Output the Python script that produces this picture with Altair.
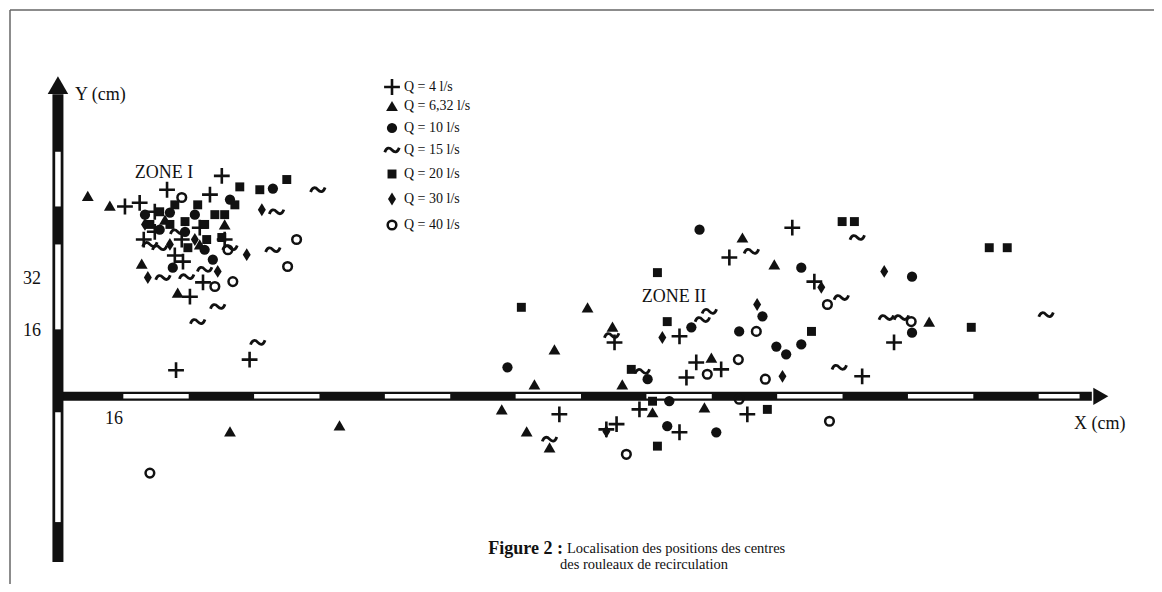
import altair as alt
import pandas as pd

# ---------------- data (positions in cm) ----------------
q4_x = [40.1, 26.7, 16.4, 20.0, 37.2, 30.6, 35.5, 32.3, 23.7, 30.3, 34.7, 28.6, 21.0, 28.9, 46.9, 23.7, 40.8,
        179.7, 164.3, 185.1, 136.2, 152.1, 156.2, 162.3, 153.8, 122.7, 134.2, 136.7, 142.3, 152.1, 168.7, 204.6, 196.8]
q4_y = [54.0, 50.6, 46.5, 47.4, 49.4, 33.0, 27.9, 24.4, 45.2, 38.4, 41.3, 34.5, 38.4, 6.4, 9.0, 40.3, 38.4,
        41.3, 34.0, 28.1, 13.2, 14.7, 8.3, 6.6, 4.6, -4.4, -8.1, -6.8, -3.2, -8.8, -4.4, 13.2, 4.9]

q632_x = [7.3, 12.7, 20.5, 29.3, 34.7, 26.2, 40.8, 42.1, 68.9, 167.5, 175.3, 129.6, 135.7, 121.5, 159.9,
          116.6, 138.1, 108.6, 114.7, 120.3, 145.5, 158.2, 213.2]
q632_y = [49.1, 46.7, 32.5, 25.4, 37.2, 43.3, 42.1, -8.6, -7.1, 38.9, 32.3, 21.8, 17.1, 11.5, 9.5,
          2.9, 2.9, -3.2, -8.6, -12.5, -3.9, -2.7, 18.3]

q10_x = [52.6, 28.1, 31.1, 42.1, 24.9, 37.9, 33.5, 21.3, 27.4, 35.9, 157.0, 181.9, 209.0, 155.0, 166.7, 175.8,
         178.2, 181.9, 110.0, 144.3, 149.6, 149.1, 161.1, 209.0, 172.4]
q10_y = [50.9, 31.5, 40.3, 48.2, 40.8, 33.5, 44.5, 44.5, 45.0, 35.9, 40.8, 31.5, 29.3, 16.9, 15.9, 12.2,
         10.3, 12.7, 7.1, 4.2, -1.2, -7.3, -8.8, 15.6, 19.6]

q15_x = [63.6, 53.5, 52.6, 25.7, 31.5, 39.1, 34.2, 42.1, 24.9, 35.9, 48.9, 29.3, 22.5, 169.7, 195.6, 191.7,
         202.7, 206.4, 241.8, 191.2, 135.5, 157.7, 159.4, 143.0, 120.3]
q15_y = [50.6, 45.2, 35.9, 29.1, 29.3, 22.0, 18.3, 36.4, 36.4, 31.1, 13.2, 40.3, 37.2, 35.5, 38.9, 24.2,
         19.3, 19.3, 20.0, 7.1, 14.9, 18.8, 20.8, 6.1, -10.5]

q20_x = [44.5, 49.4, 56.0, 28.6, 38.4, 34.2, 22.5, 27.4, 36.4, 40.1, 31.8, 43.3, 24.9, 31.1, 35.9, 40.8,
         191.9, 194.9, 227.9, 232.3, 146.7, 113.4, 149.1, 184.4, 223.5, 140.3, 145.5, 146.7, 173.6]
q20_y = [51.3, 50.6, 53.1, 46.9, 44.5, 46.9, 42.1, 42.1, 38.4, 38.9, 36.4, 46.9, 45.2, 42.8, 42.1, 44.5,
         42.8, 42.8, 36.4, 36.4, 30.3, 21.8, 18.3, 15.9, 16.9, 6.6, -1.2, -12.2, -3.2]

q30_x = [49.9, 46.2, 22.0, 39.1, 27.4, 21.3, 33.5, 147.9, 171.1, 177.3, 186.8, 202.2, 134.2]
q30_y = [45.7, 34.7, 29.1, 30.6, 37.2, 42.1, 38.4, 14.4, 22.5, 4.9, 26.7, 30.6, -8.6]

q40_x = [58.4, 56.2, 42.8, 38.4, 30.3, 41.6, 22.5, 170.9, 166.5, 158.9, 173.1, 166.7, 139.1, 188.8,
         188.3, 208.8]
q40_y = [38.4, 31.8, 28.1, 26.9, 48.7, 35.9, -18.8, 15.9, 9.0, 5.4, 4.2, -0.7, -14.2, -6.1, 22.5, 18.3]

series_labels = ["Q = 4 l/s", "Q = 6,32 l/s", "Q = 10 l/s", "Q = 15 l/s",
                 "Q = 20 l/s", "Q = 30 l/s", "Q = 40 l/s"]

# graduated axes (cm): white segments of the striped bars
x_white_from = [16, 48, 80, 112, 144, 176, 208, 240]
x_white_to = [32, 64, 96, 128, 160, 192, 224, 250]
y_white_from = [46.5, 16.4, -30.8]
y_white_to = [59.9, 37.2, -3.9]
x_bar = [0, 253]
y_bar = [-40.6, 74]

# ---------------- layout ----------------
W, H = 1146, 576
XS = alt.Scale(domain=[-12.22, 267.97], nice=False, zero=False)
YS = alt.Scale(domain=[-45.72, 95.11], nice=False, zero=False)
INK = "#111111"
SERIF = "Liberation Serif"
one = alt.Data(values=[{}])

CROSS = "M -1 0 L 1 0 M 0 -1 L 0 1"
TILDE = "M -1 0.3 C -0.75 -0.4 -0.35 -0.4 0 0 C 0.35 0.4 0.75 0.4 1 -0.3"
DIAMOND = "M 0 -1 L 0.62 0 L 0 1 L -0.62 0 Z"

styles = [
    dict(shape=CROSS, size=250, filled=False, strokeWidth=2.6),
    dict(shape="triangle-up", size=140, filled=True),
    dict(shape="circle", size=105, filled=True),
    dict(shape=TILDE, size=210, filled=False, strokeWidth=2.8),
    dict(shape="square", size=80, filled=True),
    dict(shape=DIAMOND, size=165, filled=True),
    dict(shape="circle", size=75, filled=False, strokeWidth=2.5),
]
xs_all = [q4_x, q632_x, q10_x, q15_x, q20_x, q30_x, q40_x]
ys_all = [q4_y, q632_y, q10_y, q15_y, q20_y, q30_y, q40_y]

layers = []

# frame of the scanned figure
layers.append(alt.Chart(one).mark_rule(color="#666", strokeWidth=1.5).encode(
    x=alt.value(2), x2=alt.value(W), y=alt.value(2)))
layers.append(alt.Chart(one).mark_rule(color="#666", strokeWidth=1.5).encode(
    x=alt.value(2), y=alt.value(2), y2=alt.value(H)))

# striped axes
xbar_df = pd.DataFrame({"a": [x_bar[0]], "b": [x_bar[1]], "y": [0]})
ybar_df = pd.DataFrame({"a": [y_bar[0]], "b": [y_bar[1]], "x": [0]})
xw_df = pd.DataFrame({"a": x_white_from, "b": x_white_to, "y": [0] * len(x_white_from)})
yw_df = pd.DataFrame({"a": y_white_from, "b": y_white_to, "x": [0] * len(y_white_from)})

layers.append(alt.Chart(xbar_df).mark_rule(color=INK, strokeWidth=9).encode(
    x=alt.X("a:Q", scale=XS, axis=None), x2="b:Q", y=alt.Y("y:Q", scale=YS, axis=None)))
layers.append(alt.Chart(ybar_df).mark_rule(color=INK, strokeWidth=11).encode(
    y=alt.Y("a:Q", scale=YS, axis=None), y2="b:Q", x=alt.X("x:Q", scale=XS, axis=None)))
layers.append(alt.Chart(xw_df).mark_rule(color="white", strokeWidth=4.5).encode(
    x=alt.X("a:Q", scale=XS, axis=None), x2="b:Q", y=alt.Y("y:Q", scale=YS, axis=None)))
layers.append(alt.Chart(yw_df).mark_rule(color="white", strokeWidth=5.5).encode(
    y=alt.Y("a:Q", scale=YS, axis=None), y2="b:Q", x=alt.X("x:Q", scale=XS, axis=None)))

# arrow heads
arr_y = pd.DataFrame({"x": [0], "y": [y_bar[1] + 2.2]})
arr_x = pd.DataFrame({"x": [x_bar[1] + 2.2], "y": [0]})
layers.append(alt.Chart(arr_y).mark_point(shape="triangle-up", filled=True, size=420, color=INK, opacity=1).encode(
    x=alt.X("x:Q", scale=XS, axis=None), y=alt.Y("y:Q", scale=YS, axis=None)))
layers.append(alt.Chart(arr_x).mark_point(shape="triangle-right", filled=True, size=300, color=INK, opacity=1).encode(
    x=alt.X("x:Q", scale=XS, axis=None), y=alt.Y("y:Q", scale=YS, axis=None)))

# data points
for xs, ys, st in zip(xs_all, ys_all, styles):
    df = pd.DataFrame({"x": xs, "y": ys})
    layers.append(alt.Chart(df).mark_point(color=INK, opacity=1, **st).encode(
        x=alt.X("x:Q", scale=XS, axis=None), y=alt.Y("y:Q", scale=YS, axis=None)))

# legend (drawn)
leg_rows = [79, 98, 120, 142, 166, 191, 217]
for lab, st, ry in zip(series_labels, styles, leg_rows):
    layers.append(alt.Chart(one).mark_point(color=INK, opacity=1, **st).encode(
        x=alt.value(384), y=alt.value(ry)))
    layers.append(alt.Chart(one).mark_text(font=SERIF, fontSize=14, align="left", baseline="middle",
                                           color=INK).encode(
        x=alt.value(396), y=alt.value(ry), text=alt.value(lab)))

# annotations
def txt(s, x, y, size=15, align="left", weight="normal"):
    return alt.Chart(one).mark_text(font=SERIF, fontSize=size, align=align, baseline="middle",
                                    color=INK, fontWeight=weight).encode(
        x=alt.value(x), y=alt.value(y), text=alt.value(s))

layers.append(txt("Y (cm)", 67, 87, size=18))
layers.append(txt("X (cm)", 1066, 416, size=18))
layers.append(txt("ZONE I", 156, 165, size=18, align="center"))
layers.append(txt("ZONE II", 666, 289, size=18, align="center"))
layers.append(txt("32", 24, 271, size=18, align="center"))
layers.append(txt("16", 24, 323, size=18, align="center"))
layers.append(txt("16", 106, 411, size=18, align="center"))
layers.append(txt("Figure 2 :", 555, 541, size=18, align="right", weight="bold"))
layers.append(txt("Localisation des positions des centres", 559, 541, size=14.5))
layers.append(txt("des rouleaux de recirculation", 636, 557, size=14.5, align="center"))

chart = alt.layer(*layers).properties(
    width=W, height=H,
    autosize=alt.AutoSizeParams(type="fit", contains="padding"),
    padding=0, background="white",
).configure_view(strokeWidth=0)

chart.save("out.html", embed_options={"renderer": "svg", "actions": False})
